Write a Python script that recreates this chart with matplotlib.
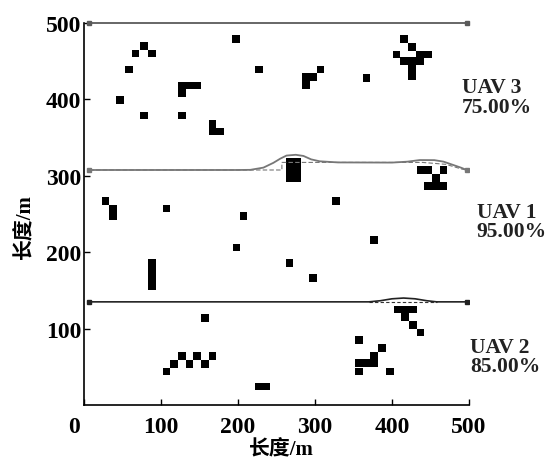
import matplotlib
matplotlib.use('Agg')
import matplotlib.pyplot as plt
import matplotlib.transforms as mtransforms
import numpy as np

plt.rcParams['font.family'] = ['Liberation Serif', 'Noto Sans CJK SC']
plt.rcParams['font.weight'] = 'bold'

# obstacle cells (centre x, centre y), 10 m x 10 m each
obs_x = [78, 67, 88, 58, 47, 78, 127,
         127, 137, 147, 127,
         167, 167, 177,
         197, 227,
         307, 288, 297, 288,
         367,
         416, 426, 406, 436, 447, 416, 426, 436, 426, 426,
         267, 277, 267, 277, 267, 277,
         437, 447, 467, 457, 447, 457, 467,
         28, 38, 38, 107, 207, 198, 88, 88, 88, 88, 327, 377, 267, 297,
         407, 417, 427, 417, 427, 437,
         357, 387, 377, 377, 357, 367, 357, 397,
         157,
         107, 117, 127, 137, 147, 157, 167,
         227, 237]
obs_y = [470, 460, 460, 439, 399, 379, 379,
         418, 418, 418, 408,
         368, 358, 358,
         479, 439,
         439, 429, 429, 419,
         428,
         479, 469, 459, 459, 459, 450, 450, 450, 440, 430,
         297, 297, 308, 308, 318, 318,
         308, 308, 308, 297, 287, 287, 287,
         267, 257, 247, 257, 247, 206, 186, 176, 166, 156, 267, 216, 186, 166,
         125, 125, 125, 115, 105, 95,
         85, 75, 65, 55, 55, 55, 44, 44,
         114,
         44, 54, 64, 54, 64, 54, 64,
         24, 24]

# UAV paths (solid = planned, dashed = reference)
uav3_x = [7, 497]
uav3_y = [500, 500]

uav1_x = [7, 200, 216, 233, 246, 255, 263, 275, 285, 295, 306, 330, 400, 420,
          436, 455, 467, 480, 490, 497]
uav1_y = [307.6, 307.6, 307.8, 310.7, 317, 322.5, 326.5, 327.5, 326, 321.5,
          319, 317.5, 317.3, 318.5, 320.6, 320.5, 318.5, 314, 310.5, 307.6]
uav1_ref_x = [7, 257, 257, 440, 470, 490, 497]
uav1_ref_y = [307.6, 307.6, 317.5, 317.5, 315, 309, 307.6]

uav2_x = [7, 370, 385, 400, 415, 430, 445, 458, 497]
uav2_y = [135, 135, 136.5, 139, 140, 139, 136.5, 135, 135]
uav2_ref_x = [370, 458]
uav2_ref_y = [135, 135]

labels = ['UAV 3', 'UAV 1', 'UAV 2']
rates = ['75.00%', '95.00%', '85.00%']
label_x = [491, 510, 501]
label_y = [403, 239.8, 63.5]

fig = plt.figure(figsize=(5.52, 4.6), dpi=100)
ax = fig.add_axes([84 / 552, 54 / 460, 385 / 552, 382 / 460])

ax.bar(obs_x, 10, width=10, bottom=np.array(obs_y) - 5, color='black',
       linewidth=0)

ax.plot(uav3_x, uav3_y, color='#5a5a5a', lw=1.3, marker='s', ms=3.5,
        clip_on=False)
ax.plot(uav1_ref_x, uav1_ref_y, color='#777777', lw=0.8, ls=(0, (4, 2)))
ax.plot(uav1_x, uav1_y, color='#777777', lw=1.3, marker='s', ms=3.5,
        markevery=[0, len(uav1_x) - 1])
ax.plot(uav2_ref_x, uav2_ref_y, color='#333333', lw=0.8, ls=(0, (3, 2)))
ax.plot(uav2_x, uav2_y, color='#222222', lw=1.2, marker='s', ms=3.5,
        markevery=[0, len(uav2_x) - 1])

for lx, ly, lab, r in zip(label_x, label_y, labels, rates):
    ax.text(lx, ly, lab + '\n' + r, fontsize=15.5, fontweight='bold',
            color='#222222', ha='left', va='center', linespacing=0.95,
            clip_on=False)

ax.set_xlim(0, 500)
ax.set_ylim(0, 500)
ax.set_xticks([0, 100, 200, 300, 400, 500])
ax.set_yticks([100, 200, 300, 400, 500])
ax.spines['top'].set_visible(False)
ax.spines['right'].set_visible(False)
ax.spines['left'].set_linewidth(1.2)
ax.spines['bottom'].set_linewidth(1.2)
ax.tick_params(direction='in', length=4, width=1, labelsize=17)
ax.tick_params(axis='x', pad=8)
ax.tick_params(axis='y', pad=2)
for t in ax.get_xticklabels() + ax.get_yticklabels():
    t.set_fontweight('bold')

# the "0" label sits a little left of the axis corner
zero_lab = ax.get_xticklabels()[0]
shift = mtransforms.ScaledTranslation(-0.10, 0, fig.dpi_scale_trans)
zero_lab.set_transform(zero_lab.get_transform() + shift)

ax.set_xlabel('长度/m', fontsize=15, fontweight='bold')
ax.xaxis.set_label_coords(0.512, -0.089)
ax.set_ylabel('长度/m', fontsize=15, fontweight='bold')
ax.yaxis.set_label_coords(-0.127, 0.469)

fig.savefig('out.png', dpi=100)
